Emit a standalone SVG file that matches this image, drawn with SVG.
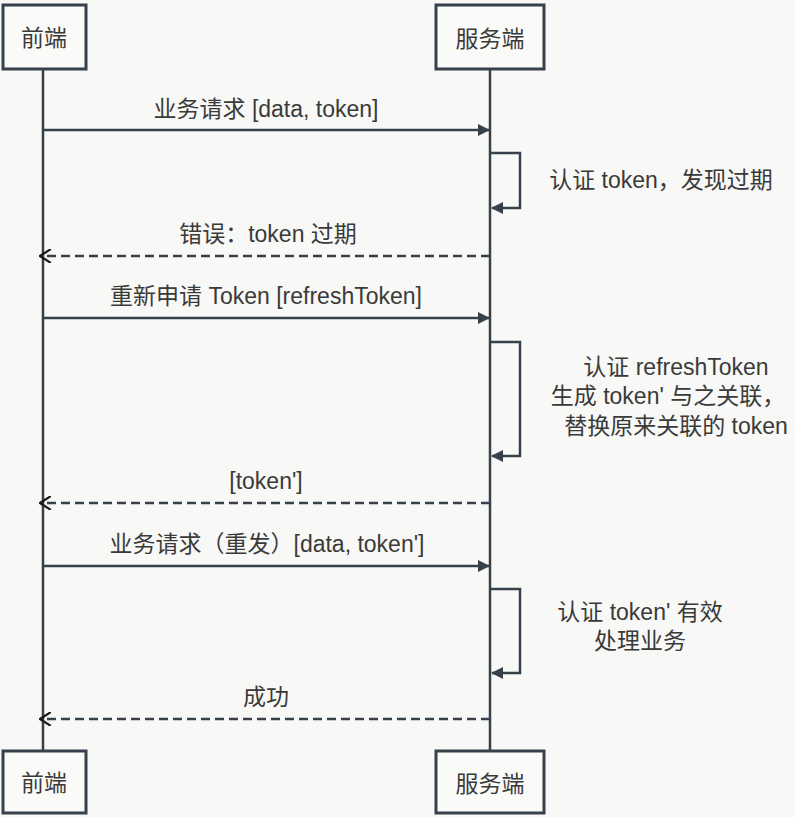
<svg xmlns="http://www.w3.org/2000/svg" width="795" height="817" viewBox="0 0 795 817">
<defs>
<style>
text{font-family:"Liberation Sans","Noto Sans CJK SC",sans-serif;font-size:23px;fill:#3a3a3a;text-anchor:middle}
.box{fill:#fafaf8;stroke:#36414c;stroke-width:3}
.life{stroke:#36414c;stroke-width:2.5}
.msg{fill:none;stroke:#36414c;stroke-width:2.5}
.dash{stroke-dasharray:9 5}
</style>
<marker id="fill" viewBox="0 0 12 12" refX="11" refY="6" markerWidth="12" markerHeight="12" markerUnits="userSpaceOnUse" orient="auto">
<path d="M0,0 L12,6 L0,12 z" fill="#36414c"/>
</marker>
<marker id="open" viewBox="0 0 12 14" refX="11" refY="7" markerWidth="12" markerHeight="14" markerUnits="userSpaceOnUse" orient="auto">
<path d="M0,0 L11,7 L0,14" fill="none" stroke="#1a1a1a" stroke-width="2.2"/>
</marker>
</defs>
<rect width="795" height="817" fill="#f8f8f6"/>
<g id="lifelines">
<line class="life" x1="43" y1="69" x2="43" y2="751"/>
<line class="life" x1="490" y1="69" x2="490" y2="751"/>
</g>
<g id="frontend-top"><rect class="box" x="3" y="5" width="83" height="64"/><text x="44" y="46">前端</text></g>
<g id="server-top"><rect class="box" x="436" y="5" width="108" height="64"/><text x="490" y="47">服务端</text></g>
<g id="frontend-bottom"><rect class="box" x="3" y="751" width="83" height="62"/><text x="44" y="791">前端</text></g>
<g id="server-bottom"><rect class="box" x="436" y="751" width="108" height="62"/><text x="490" y="792">服务端</text></g>
<g id="connectors">
<line class="msg" x1="43" y1="130" x2="489" y2="130" marker-end="url(#fill)"/>
<polyline class="msg" points="490,153 520,153 520,208 492,208" marker-end="url(#fill)"/>
<line class="msg dash" x1="490" y1="256" x2="40" y2="256" marker-end="url(#open)"/>
<line class="msg" x1="43" y1="318" x2="489" y2="318" marker-end="url(#fill)"/>
<polyline class="msg" points="490,342 520,342 520,456 492,456" marker-end="url(#fill)"/>
<line class="msg dash" x1="490" y1="503" x2="40" y2="503" marker-end="url(#open)"/>
<line class="msg" x1="43" y1="566" x2="489" y2="566" marker-end="url(#fill)"/>
<polyline class="msg" points="490,589 520,589 520,673 492,673" marker-end="url(#fill)"/>
<line class="msg dash" x1="490" y1="719" x2="40" y2="719" marker-end="url(#open)"/>
</g>
<g id="labels">
<text x="266" y="117">业务请求 [data, token]</text>
<text x="661" y="188">认证 token，发现过期</text>
<text x="268" y="242">错误：token 过期</text>
<text x="266" y="304">重新申请 Token [refreshToken]</text>
<text x="676" y="375">认证 refreshToken</text>
<text x="668" y="404">生成 token' 与之关联，</text>
<text x="676" y="434">替换原来关联的 token</text>
<text x="266" y="489">[token']</text>
<text x="267" y="552">业务请求（重发）[data, token']</text>
<text x="640" y="620">认证 token' 有效</text>
<text x="640" y="649">处理业务</text>
<text x="266" y="705">成功</text>
</g>
</svg>
